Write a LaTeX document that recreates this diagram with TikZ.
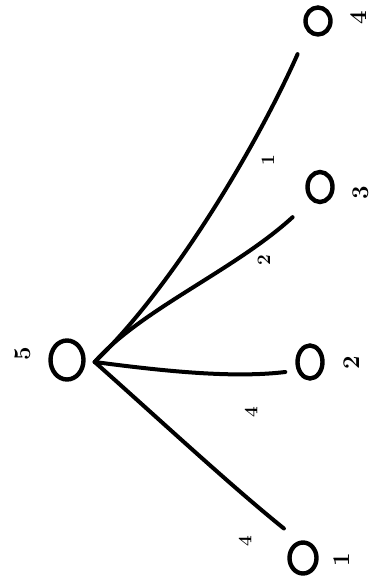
\documentclass[tikz,border=0pt]{standalone}
\usepackage{tikz}
\usetikzlibrary{positioning,calc,shapes.geometric}

\begin{document}
\begin{tikzpicture}[
  x=1pt, y=-1pt,
  vertex/.style={ellipse, draw=black, line width=4.4pt, inner sep=0pt,
                 minimum width=25pt, minimum height=29pt},
  edge/.style={draw=black, line width=4pt, line cap=round},
  digit/.style={rotate=90, inner sep=0pt, font=\fontsize{24}{24}\selectfont\bfseries},
  weight/.style={rotate=90, inner sep=0pt, font=\fontsize{19}{19}\selectfont\bfseries},
]
\useasboundingbox (0,0) rectangle (381,588);
% vertices
\node[vertex, minimum width=33pt, minimum height=39pt] (root) at (67,360) {};
\node[vertex, minimum height=27pt] (leafA) at (318,21) {};
\node[vertex, minimum height=30pt] (leafB) at (320,187) {};
\node[vertex, minimum height=33pt] (leafC) at (310,362) {};
\node[vertex, minimum width=27pt, minimum height=31pt] (leafD) at (303,558) {};
% vertex labels
\node[digit] (rootLbl) at (23,354) {5};
\node[digit] (leafALbl) at (359,18) {4};
\node[digit] (leafBLbl) at (361,193) {3};
\node[digit] (leafCLbl) at (352,363) {2};
\node[digit] (leafDLbl) at (342,560) {1};
% edges
\coordinate (hub) at ($(root.east)+(9,2)$);
\draw[edge] (hub) .. controls (170,290) and (255,150) .. ($(leafA.south west)+(-10,22)$);
\draw[edge] (hub) .. controls (140,310) and (235,270) .. ($(leafB.south west)+(-17,18)$);
\draw[edge] (hub) .. controls (170,372) and (235,378) .. ($(leafC.west)+(-10,10)$);
\draw[edge] (hub) .. controls (160,420) and (230,485) .. ($(leafD.north west)+(-8,-17)$);
% edge weights
\node[weight] (wA) at (268,160) {1};
\node[weight] (wB) at (264,260) {2};
\node[weight] (wC) at (251,412) {4};
\node[weight] (wD) at (245,541) {4};
\end{tikzpicture}
\end{document}
